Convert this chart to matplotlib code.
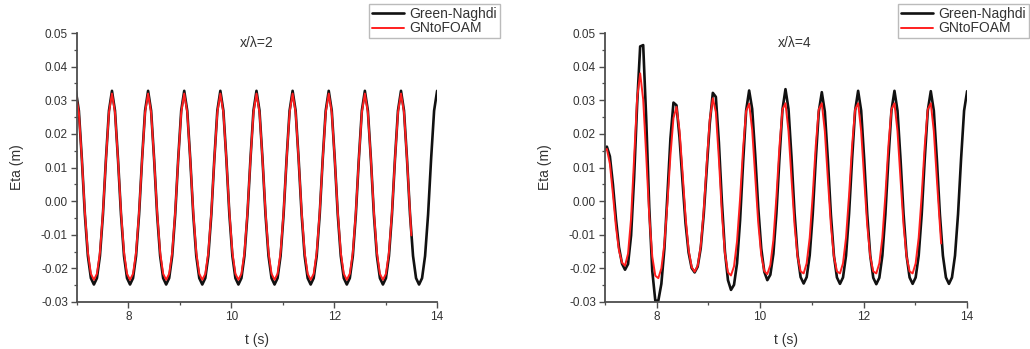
import numpy as np
import matplotlib
matplotlib.use("Agg")
import matplotlib.pyplot as plt
from matplotlib.ticker import MultipleLocator, FormatStrFormatter

plt.rcParams['font.family'] = ['Liberation Sans', 'DejaVu Sans']
plt.rcParams['axes.unicode_minus'] = False

# sampling grid (s)
t_start = 6.9775
dt = 0.05854

# ---- x/lambda = 2 (values in mm) ----
gn_left = [
    32.8, 26.9, 12.5, -4.0, -16.3, -22.9, -24.8, -22.9, -16.3, -4.0, 12.5, 26.9,
    32.8, 26.9, 12.5, -4.0, -16.3, -22.9, -24.8, -22.9, -16.3, -4.0, 12.5, 26.9,
    32.8, 26.9, 12.5, -4.0, -16.3, -22.9, -24.8, -22.9, -16.3, -4.0, 12.5, 26.9,
    32.8, 26.9, 12.5, -4.0, -16.3, -22.9, -24.8, -22.9, -16.3, -4.0, 12.5, 26.9,
    32.8, 26.9, 12.5, -4.0, -16.3, -22.9, -24.8, -22.9, -16.3, -4.0, 12.5, 26.9,
    32.8, 26.9, 12.5, -4.0, -16.3, -22.9, -24.8, -22.9, -16.3, -4.0, 12.5, 26.9,
    32.8, 26.9, 12.5, -4.0, -16.3, -22.9, -24.8, -22.9, -16.3, -4.0, 12.5, 26.9,
    32.8, 26.9, 12.5, -4.0, -16.3, -22.9, -24.8, -22.9, -16.3, -4.0, 12.5, 26.9,
    32.8, 26.9, 12.5, -4.0, -16.3, -22.9, -24.8, -22.9, -16.3, -4.0, 12.5, 26.9,
    32.8, 26.9, 12.5, -4.0, -16.3, -22.9, -24.8, -22.9, -16.3, -4.0, 12.5, 26.9,
    32.8]
foam_left = [
    32.0, 26.4, 12.4, -3.3, -15.3, -21.6, -23.4, -21.6, -15.3, -3.3, 12.4, 26.4,
    32.0, 26.4, 12.4, -3.3, -15.3, -21.6, -23.4, -21.6, -15.3, -3.3, 12.4, 26.4,
    32.0, 26.4, 12.4, -3.3, -15.3, -21.6, -23.4, -21.6, -15.3, -3.3, 12.4, 26.4,
    32.0, 26.4, 12.4, -3.3, -15.3, -21.6, -23.4, -21.6, -15.3, -3.3, 12.4, 26.4,
    32.0, 26.4, 12.4, -3.3, -15.3, -21.6, -23.4, -21.6, -15.3, -3.3, 12.4, 26.4,
    32.0, 26.4, 12.4, -3.3, -15.3, -21.6, -23.4, -21.6, -15.3, -3.3, 12.4, 26.4,
    32.0, 26.4, 12.4, -3.3, -15.3, -21.6, -23.4, -21.6, -15.3, -3.3, 12.4, 26.4,
    32.0, 26.4, 12.4, -3.3, -15.3, -21.6, -23.4, -21.6, -15.3, -3.3, 12.4, 26.4,
    32.0, 26.4, 12.4, -3.3, -15.3, -21.6, -23.4, -21.6, -15.3, -3.3, 12.4, 26.4,
    32.0, 26.4, 12.4, -3.3]
foam_left_end_t = 13.50
foam_left_end = -10.2

# ---- x/lambda = 4 (values in mm) ----
gn_right = [
    15.3, 16.2, 13.3, 5.0, -5.3, -13.7, -18.6, -20.4, -18.7, -10.2, 7.0, 28.8,
    46.0, 46.4, 24.4, -1.9, -20.8, -29.6, -29.6, -24.6, -14.2, 1.8, 18.6, 29.3,
    28.5, 18.9, 5.7, -6.7, -15.3, -19.9, -21.2, -19.5, -14.0, -3.9, 9.7, 23.2,
    32.2, 31.0, 17.5, -0.2, -15.0, -23.5, -26.4, -24.9, -18.5, -5.8, 11.5, 26.9,
    32.9, 27.4, 13.8, -1.9, -14.1, -21.0, -23.5, -21.9, -15.7, -3.7, 12.6, 27.2,
    33.3, 27.4, 12.9, -3.6, -16.0, -22.6, -24.5, -22.6, -16.1, -3.9, 12.3, 26.6,
    32.4, 26.6, 12.3, -4.0, -16.2, -22.7, -24.6, -22.7, -16.2, -3.8, 12.5, 26.9,
    32.8, 26.9, 12.5, -3.9, -16.2, -22.8, -24.7, -22.8, -16.2, -3.9, 12.5, 26.9,
    32.8, 26.9, 12.5, -3.8, -16.2, -22.7, -24.6, -22.7, -16.2, -3.9, 12.5, 26.9,
    32.7, 26.9, 12.5, -3.9, -16.2, -22.7, -24.6, -22.7, -16.2, -3.9, 12.5, 26.9,
    32.7]
foam_right = [
    14.8, 15.5, 11.1, 2.1, -7.6, -14.7, -18.3, -19.2, -15.6, -5.1, 12.7, 30.6,
    38.0, 30.2, 13.5, -4.3, -16.5, -22.2, -22.9, -20.0, -12.7, -0.6, 13.6, 24.7,
    28.0, 21.0, 8.5, -4.8, -14.5, -19.6, -21.0, -19.2, -13.4, -2.8, 11.4, 24.3,
    30.6, 26.5, 12.6, -3.7, -15.6, -21.2, -22.1, -19.4, -11.9, 0.7, 15.6, 26.8,
    29.0, 21.2, 7.4, -6.4, -16.1, -20.8, -21.7, -19.0, -11.6, 1.1, 16.1, 27.3,
    29.1, 20.8, 6.6, -7.1, -16.5, -20.9, -21.5, -18.5, -10.9, 1.7, 16.4, 27.3,
    29.1, 20.8, 6.6, -7.1, -16.5, -20.9, -21.5, -18.5, -10.9, 1.7, 16.4, 27.3,
    29.1, 20.8, 6.6, -7.1, -16.5, -20.9, -21.5, -18.5, -10.9, 1.7, 16.4, 27.3,
    29.1, 20.8, 6.6, -7.1, -16.5, -20.9, -21.5, -18.5, -10.9, 1.7, 16.4, 27.3,
    29.1, 20.8, 6.6, -7.1]
foam_right_end_t = 13.50
foam_right_end = -12.6

titles = ["x/\u03bb=2", "x/\u03bb=4"]
series_names = ["Green-Naghdi", "GNtoFOAM"]
y_ticks = [-0.03, -0.02, -0.01, 0.00, 0.01, 0.02, 0.03, 0.04, 0.05]
x_ticks = [8, 10, 12, 14]


def series(vals, end_t=None, end_v=None):
    t = t_start + dt * np.arange(len(vals))
    v = np.array(vals) / 1000.0
    if end_t is not None:
        t = np.append(t, end_t)
        v = np.append(v, end_v / 1000.0)
    return t, v


fig = plt.figure(figsize=(10.3, 3.49), dpi=100)
W, H = 1030.0, 349.0
axes_px = [(77, 360), (605, 362)]
legend_right_px = [500, 1029]
title_x = [0.5, 0.525]

panels = [
    (gn_left, foam_left, foam_left_end_t, foam_left_end),
    (gn_right, foam_right, foam_right_end_t, foam_right_end),
]

axis_col = '#4d4d4d'
text_col = '#333333'
for k, (gn, fo, et, ev) in enumerate(panels):
    x0, w = axes_px[k]
    ax = fig.add_axes([x0 / W, 1 - 302 / H, w / W, 269 / H])
    tb, vb = series(gn)
    tr, vr = series(fo, et, ev)
    l1, = ax.plot(tb, vb, color='#111111', lw=1.9, label=series_names[0],
                  solid_joinstyle='round', solid_capstyle='round')
    l2, = ax.plot(tr, vr, color='#ff1f1f', lw=1.4, label=series_names[1],
                  solid_joinstyle='round', solid_capstyle='round')
    ax.set_xlim(7, 14)
    ax.set_ylim(-0.03, 0.05)
    ax.set_xticks(x_ticks)
    ax.set_yticks(y_ticks)
    ax.xaxis.set_minor_locator(MultipleLocator(1))
    ax.yaxis.set_minor_locator(MultipleLocator(0.005))
    ax.yaxis.set_major_formatter(FormatStrFormatter('%.2f'))
    for s in ['top', 'right']:
        ax.spines[s].set_visible(False)
    for s in ['left', 'bottom']:
        ax.spines[s].set_color(axis_col)
        ax.spines[s].set_linewidth(1.3)
    ax.tick_params(which='major', direction='out', length=4, width=1.0,
                   color=axis_col, labelsize=8.5, labelcolor=text_col, pad=2.5)
    ax.tick_params(which='minor', direction='out', length=2.5, width=0.9,
                   color=axis_col)
    ax.set_xlabel('t (s)', fontsize=10, color=text_col, labelpad=7)
    ax.set_ylabel('Eta (m)', fontsize=10, color=text_col, labelpad=12)
    ax.text(title_x[k], 0.963, titles[k], transform=ax.transAxes,
            ha='center', va='center', fontsize=10, color=text_col)
    leg = ax.legend(handles=[l1, l2], loc='upper right',
                    bbox_to_anchor=(legend_right_px[k] / W, 1 - 4 / H),
                    bbox_transform=fig.transFigure, fontsize=10,
                    frameon=True, fancybox=False, handlelength=2.3,
                    handletextpad=0.4, borderpad=0.2, labelspacing=0.05,
                    borderaxespad=0)
    leg.get_frame().set_edgecolor('#aaaaaa')
    leg.get_frame().set_linewidth(1.0)
    for txt in leg.get_texts():
        txt.set_color(text_col)

fig.savefig('out.png', dpi=100)
